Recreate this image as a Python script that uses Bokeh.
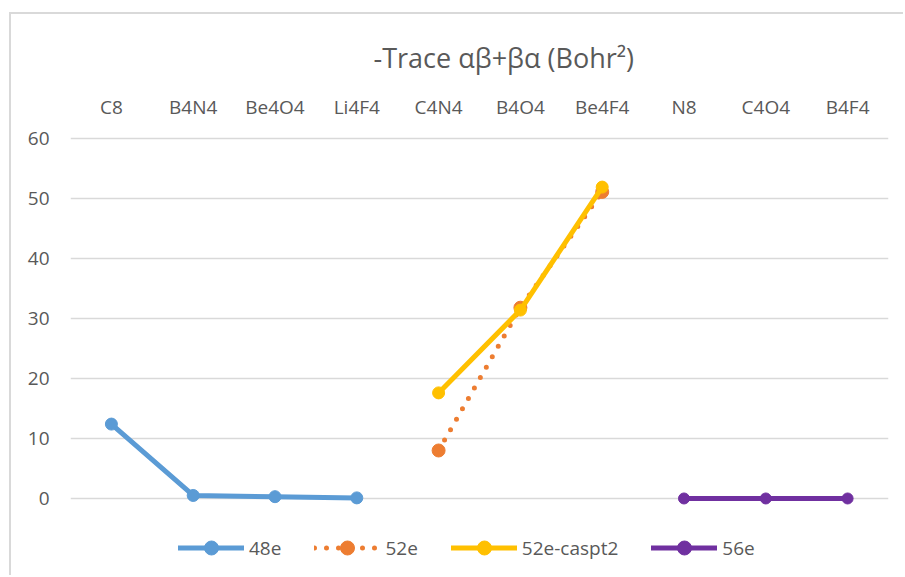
import math
from bokeh.plotting import figure
from bokeh.models import Range1d, FactorRange, Legend, LegendItem, FixedTicker
from bokeh.embed import file_html
from bokeh.resources import INLINE

nan = float("nan")

categories = ["C8", "B4N4", "Be4O4", "Li4F4", "C4N4", "B4O4", "Be4F4", "N8", "C4O4", "B4F4"]
series_names = ["48e", "52e", "52e-caspt2", "56e"]
s48e = [12.4, 0.5, 0.3, 0.1, nan, nan, nan, nan, nan, nan]
s52e = [nan, nan, nan, nan, 8.0, 31.8, 51.1, nan, nan, nan]
s52e_caspt2 = [nan, nan, nan, nan, 17.6, 31.4, 51.9, nan, nan, nan]
s56e = [nan, nan, nan, nan, nan, nan, nan, 0.0, 0.0, 0.0]
y_ticks = [0, 10, 20, 30, 40, 50, 60]
title_text = "-Trace \u03b1\u03b2+\u03b2\u03b1 (Bohr\u00b2)"

FONT = "Open Sans"
TXT = "#595959"

# figure origin on page: (11, 14) because of margin + border
p = figure(
    width=894, height=563,
    x_range=FactorRange(*categories),
    y_range=Range1d(-13.17, 60.5),
    x_axis_location="above",
    output_backend="svg", toolbar_location=None,
    min_border_left=59, min_border_right=17,
    min_border_top=121, min_border_bottom=0,
)
p.styles = {"margin-left": "9px", "margin-top": "12px",
            "border-left": "2px solid #d9d9d9", "border-top": "2px solid #d9d9d9"}

p.title.text = title_text
p.title.align = "left"
p.title.offset = 303
p.title.text_font = FONT
p.title.text_font_size = "27px"
p.title.text_font_style = "normal"
p.title.text_color = TXT
p.title.standoff = 29

p.outline_line_color = None
p.xgrid.grid_line_color = None
p.ygrid.grid_line_color = "#d9d9d9"
p.ygrid.grid_line_width = 1.5
p.yaxis.ticker = FixedTicker(ticks=y_ticks)

for ax in (p.xaxis, p.yaxis):
    ax.axis_line_color = None
    ax.major_tick_line_color = None
    ax.minor_tick_line_color = None
    ax.major_label_text_font = FONT
    ax.major_label_text_font_size = "19px"
    ax.major_label_text_color = TXT
p.xaxis.major_label_standoff = 10
p.yaxis.major_label_standoff = 15

colors = ["#5B9BD5", "#ED7D31", "#FFC000", "#7030A0"]
data = [s48e, s52e, s52e_caspt2, s56e]
dashes = ["solid", "0 12", "solid", "solid"]
widths = [5, 5, 5, 5]
sizes = [12, 13, 12, 11]

items = []
for name, ys, c, d, w, s in zip(series_names, data, colors, dashes, widths, sizes):
    lr = p.line(categories, ys, line_color=c, line_width=w, line_dash=d, line_cap="round", line_join="round")
    sr = p.scatter(categories, ys, size=s, fill_color=c, line_color=c)
    items.append(LegendItem(label=name, renderers=[lr, sr]))

legend = Legend(
    items=items, orientation="horizontal", location=(108, 12),
    glyph_width=66, glyph_height=35, label_standoff=5, spacing=33,
    padding=0, margin=0, border_line_color=None, background_fill_alpha=0,
    label_text_font=FONT, label_text_font_size="19px", label_text_color=TXT,
)
p.add_layout(legend)

open("out.html", "w").write(file_html(p, INLINE))
